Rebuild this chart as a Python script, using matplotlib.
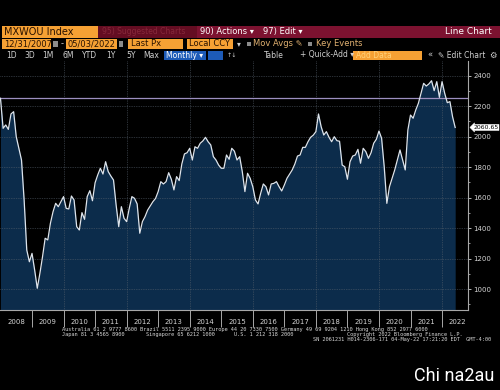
import matplotlib
matplotlib.use("Agg")
import matplotlib.pyplot as plt
import matplotlib.transforms as mtransforms
from matplotlib.patches import Rectangle
from matplotlib.ticker import MultipleLocator
import numpy as np

# MXWOU Index, month-end closes, 12/31/2007 - 05/03/2022
px_2007 = [2252]
px_2008 = [2055, 2077, 2048, 2149, 2164, 2000, 1924, 1847, 1585, 1257, 1180, 1235]
px_2009 = [1126, 1006, 1104, 1213, 1334, 1323, 1432, 1508, 1563, 1541, 1574, 1607]
px_2010 = [1530, 1526, 1611, 1585, 1410, 1388, 1502, 1458, 1607, 1646, 1580, 1698]
px_2011 = [1749, 1793, 1755, 1836, 1771, 1742, 1716, 1552, 1410, 1541, 1465, 1443]
px_2012 = [1530, 1607, 1596, 1559, 1367, 1443, 1476, 1519, 1546, 1574, 1595, 1640]
px_2013 = [1705, 1690, 1705, 1764, 1721, 1651, 1738, 1712, 1821, 1887, 1895, 1924]
px_2014 = [1847, 1934, 1924, 1957, 1972, 1996, 1967, 1946, 1869, 1847, 1814, 1793]
px_2015 = [1793, 1880, 1852, 1924, 1905, 1847, 1869, 1771, 1640, 1760, 1727, 1672]
px_2016 = [1585, 1559, 1629, 1690, 1672, 1618, 1690, 1694, 1705, 1672, 1644, 1683]
px_2017 = [1727, 1755, 1782, 1821, 1873, 1880, 1930, 1930, 1967, 1996, 2010, 2033]
px_2018 = [2149, 2066, 2011, 2033, 1996, 1967, 2000, 1974, 1970, 1814, 1803, 1721]
px_2019 = [1836, 1873, 1880, 1917, 1826, 1924, 1902, 1858, 1895, 1957, 1983, 2037]
px_2020 = [1990, 1803, 1563, 1672, 1727, 1782, 1847, 1913, 1847, 1782, 2044, 2142]
px_2021 = [2121, 2175, 2219, 2285, 2350, 2332, 2346, 2367, 2302, 2361, 2258, 2361]
px_2022 = [2285, 2223, 2230, 2131, 2060.65]

years = list(range(2008, 2023))
y_ticks = [1000, 1200, 1400, 1600, 1800, 2000, 2200, 2400]
last_label = "2060.65"

vals = np.array(px_2007 + px_2008 + px_2009 + px_2010 + px_2011 + px_2012 + px_2013
                + px_2014 + px_2015 + px_2016 + px_2017 + px_2018 + px_2019 + px_2020
                + px_2021 + px_2022, dtype=float)
t = 2008 + np.arange(len(vals)) / 12.0

W, H = 500, 390
fig = plt.figure(figsize=(W / 100, H / 100), dpi=100, facecolor="black")

# chart panel
ax = fig.add_axes([0, 1 - 310 / H, 468 / W, (310 - 61) / H])
ax.set_facecolor("black")
ax.set_xlim(2007.985, 2022.823)
ax.set_ylim(863.6, 2496.4)

ax.fill_between(t, vals, 0, color="#0c2c4b", lw=0, zorder=1)
for yv in y_ticks:
    ax.axhline(yv, color="#56606c", lw=0.5, ls=(0, (1, 1.5)), zorder=2)
for yr in range(2010, 2023, 2):
    ax.axvline(yr, color="#56606c", lw=0.5, ls=(0, (1, 1.5)), zorder=2)
ax.axhline(vals[0], color="#9c8fc0", lw=0.9, zorder=2.5)
ax.plot(t, vals, color="#dde4ec", lw=0.9, zorder=3)

for s in ("top", "left"):
    ax.spines[s].set_visible(False)
for s in ("right", "bottom"):
    ax.spines[s].set_color("#a8a8a8")
    ax.spines[s].set_linewidth(0.8)

ax.yaxis.tick_right()
ax.set_yticks(y_ticks)
ax.set_yticklabels([str(v) for v in y_ticks])
ax.yaxis.set_minor_locator(MultipleLocator(100))
ax.tick_params(axis="y", which="major", colors="#d4d4d4", labelsize=5, length=2.5,
               width=0.6, pad=1.5)
ax.tick_params(axis="y", which="minor", colors="#d4d4d4", length=1.5, width=0.5)

ax.set_xticks(years[1:])
ax.set_xticklabels([])
ax.set_xticks([y + 0.5 for y in years], minor=True)
ax.set_xticklabels([str(y) for y in years], minor=True)
ax.tick_params(axis="x", which="major", colors="#a8a8a8", length=12.5, width=0.7)
ax.tick_params(axis="x", which="minor", colors="#d4d4d4", labelsize=5, length=0, pad=6.5)

trans = mtransforms.blended_transform_factory(ax.transAxes, ax.transData)
ax.text(1.011, vals[-1], last_label, transform=trans, fontsize=4.4, color="black",
        va="center", ha="left", clip_on=False, zorder=5,
        bbox=dict(boxstyle="larrow,pad=0.1", fc="white", ec="white", lw=0.3))

# toolbar / footer overlay in pixel coordinates
ov = fig.add_axes([0, 0, 1, 1])
ov.set_xlim(0, W)
ov.set_ylim(H, 0)
ov.axis("off")

orange = "#f6a134"
crimson = "#7c1230"


def box(x0, y0, x1, y1, c):
    ov.add_patch(Rectangle((x0, y0), x1 - x0, y1 - y0, fc=c, ec="none"))


def txt(x, y, s, c="#d0d0d0", size=6, ha="left", **kw):
    ov.text(x, y, s, color=c, fontsize=size, ha=ha, va="center", **kw)


# row 1
box(98, 25.5, 500, 37.5, crimson)
box(98, 25.5, 197, 37.5, "#640d22")
box(2, 26, 98, 37.5, orange)
txt(4, 31.8, "MXWOU Index", c="#2a1200", size=7)
txt(102, 31.8, "95) Suggested Charts", c="#86283a", size=5.5)
txt(200, 31.8, "90) Actions \u25be", c="white", size=6)
txt(263, 31.8, "97) Edit \u25be", c="white", size=6)
txt(492, 31.8, "Line Chart", c="white", size=6.5, ha="right")

# row 2
box(2, 39, 51, 48.5, orange)
txt(4, 43.8, "12/31/2007", c="#2a1200", size=6)
box(53, 41, 57.5, 47, "#8c8c8c")
txt(62, 43.8, "-", c="#d0d0d0", size=6, ha="center")
box(66, 39, 117, 48.5, orange)
txt(68, 43.8, "05/03/2022", c="#2a1200", size=6)
box(118.5, 41, 123, 47, "#8c8c8c")
box(128, 39, 183, 48.5, orange)
txt(131, 43.8, "Last Px", c="#2a1200", size=6)
box(187, 39, 233, 48.5, orange)
txt(189, 43.8, "Local CCY", c="#2a1200", size=6)
txt(237, 43.8, "\u25be", c="#d0d0d0", size=5.5)
box(247, 41.5, 251, 46, "#8c8c8c")
txt(253, 43.8, "Mov Avgs \u270e", c="#e0b070", size=6)
box(308, 41.5, 312, 46, "#8c8c8c")
txt(316, 43.8, "Key Events", c="#e0b070", size=6)

# row 3
for lab, xc in [("1D", 12), ("3D", 30), ("1M", 48), ("6M", 68), ("YTD", 90),
                ("1Y", 111), ("5Y", 131), ("Max", 151)]:
    txt(xc, 55, lab, size=5.5, ha="center")
box(164, 50.5, 206, 59.5, "#1d5bb8")
txt(185, 55, "Monthly \u25be", c="white", size=5.5, ha="center")
box(208, 50.5, 223, 59.5, "#1d5bb8")
txt(227, 55, "\u2191\u2193", size=4.5)
txt(274, 55, "Table", size=5.5, ha="center")
txt(300, 55, "+ Quick-Add \u25be", size=5.5)
box(353, 50.5, 422, 59.5, orange)
txt(356, 55, "Add Data", c="#ffd27a", size=5.5)
txt(427, 55, "\u00ab", size=6)
txt(438, 55, "\u270e Edit Chart", size=5.5)
txt(489, 55, "\u2699", size=6)

# footer
mono = dict(family="DejaVu Sans Mono", size=3.8)
txt(62.5, 330, "Australia 61 2 9777 8600 Brazil 5511 2395 9000 Europe 44 20 7330 7500 "
    "Germany 49 69 9204 1210 Hong Kong 852 2977 6000", c="#d8d8d8", **mono)
txt(62.5, 334.5, "Japan 81 3 4565 8900", c="#d8d8d8", **mono)
txt(145.7, 334.5, "Singapore 65 6212 1000", c="#d8d8d8", **mono)
txt(234, 334.5, "U.S. 1 212 318 2000", c="#d8d8d8", **mono)
txt(347, 334.5, "Copyright 2022 Bloomberg Finance L.P.", c="#d8d8d8", **mono)
txt(313, 339, "SN 2061231 H014-2306-171 04-May-22 17:21:20 EDT  GMT-4:00",
    c="#d8d8d8", **mono)

ov.text(494, 376, "Chi na2au", color="white", fontsize=13, ha="right", va="center",
        family=["Roboto", "DejaVu Sans"])

fig.savefig("out.png", dpi=100, facecolor="black")
